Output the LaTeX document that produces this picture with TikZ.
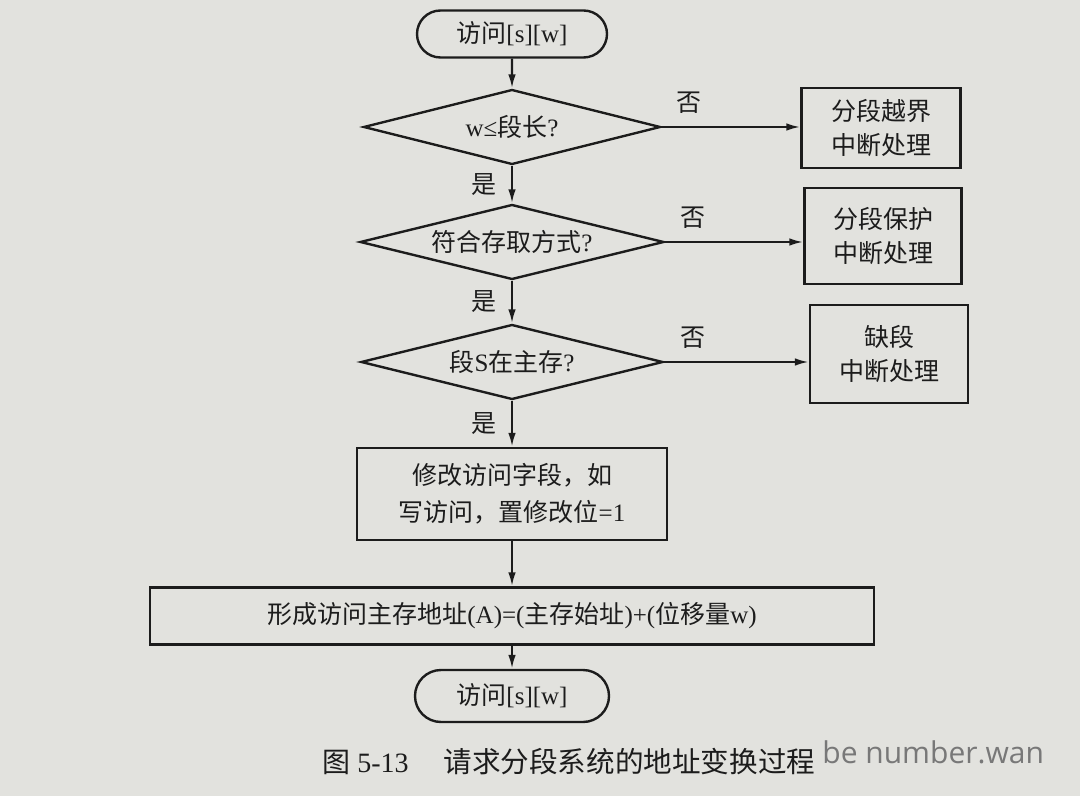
\documentclass[tikz,border=0pt]{standalone}
\usepackage{fontspec}
\setmainfont{Liberation Serif}
\newfontfamily\cjk{Noto Sans CJK SC}
\newfontfamily\wmfont{Open Sans}
\usetikzlibrary{shapes.geometric,shapes.misc,arrows.meta}
\definecolor{paper}{RGB}{226,226,222}
\definecolor{ink}{RGB}{28,28,28}
\definecolor{wmgray}{RGB}{120,120,120}
\begin{document}
\begin{tikzpicture}[x=0.5pt,y=-0.5pt,
  base/.style={draw=ink,line width=1.2pt,inner sep=0pt,align=center,text=ink,
    font=\fontsize{12.5}{17}\selectfont},
  term/.style={base,rounded rectangle},
  dec/.style={base,diamond,shape aspect=4},
  proc/.style={base,rectangle},
  arr/.style={draw=ink,line width=1.1pt,-{Latex[length=7pt,width=3.8pt]}},
  lab/.style={font=\fontsize{12.5}{14}\selectfont\cjk,text=ink,inner sep=1pt}]
\fill[paper] (0,0) rectangle (1080,796);
\useasboundingbox (0,0) rectangle (1080,796);

\node[term,minimum width=95pt,minimum height=23.5pt] (start) at (512,34) {{\cjk 访问}[s][w]};
\node[dec,minimum width=148.5pt,minimum height=37.5pt] (d1) at (512,127) {w≤{\cjk 段长}?};
\node[dec,minimum width=152pt,minimum height=37.5pt] (d2) at (512,242) {{\cjk 符合存取方式}?};
\node[dec,minimum width=151pt,minimum height=37.5pt] (d3) at (512,362) {{\cjk 段}S{\cjk 在主存}?};
\node[proc,minimum width=79.5pt,minimum height=40pt] (b1) at (881,128) {{\cjk 分段越界}\\{\cjk 中断处理}};
\node[proc,minimum width=78.5pt,minimum height=48pt] (b2) at (883,236) {{\cjk 分段保护}\\{\cjk 中断处理}};
\node[proc,minimum width=79pt,minimum height=49pt] (b3) at (889,354) {{\cjk 缺段}\\{\cjk 中断处理}};
\node[proc,minimum width=155pt,minimum height=46pt,font=\fontsize{12.5}{18.5}\selectfont] (p1) at (512,494) {{\cjk 修改访问字段，如}\\{\cjk 写访问，置修改位}=1};
\node[proc,minimum width=362pt,minimum height=28.5pt] (p2) at (512,616) {{\cjk 形成访问主存地址}(A)=({\cjk 主存始址})+({\cjk 位移量}w)};
\node[term,minimum width=97pt,minimum height=26pt] (end) at (512,696) {{\cjk 访问}[s][w]};

\draw[arr] (start) -- (d1);
\draw[arr] (d1) -- node[lab,left=6pt]{是} (d2);
\draw[arr] (d2) -- node[lab,left=6pt]{是} (d3);
\draw[arr] (d3) -- node[lab,left=6pt]{是} (p1);
\draw[arr] (p1) -- (p2);
\draw[arr] (p2) -- (end);
\draw[arr] (d1.east) -- node[lab,pos=0.2,above=5pt]{否} (d1.east -| b1.west);
\draw[arr] (d2.east) -- node[lab,pos=0.2,above=5pt]{否} (d2.east -| b2.west);
\draw[arr] (d3.east) -- node[lab,pos=0.2,above=5pt]{否} (d3.east -| b3.west);

\node[anchor=west,text=ink,inner sep=0pt,font=\fontsize{14}{16}\selectfont] (cap1) at (322,762) {{\cjk 图} 5-13};
\node[anchor=west,text=ink,inner sep=0pt,font=\fontsize{14.3}{16}\selectfont\cjk] (cap2) at (443,762) {请求分段系统的地址变换过程};
\node[anchor=west,text=wmgray,inner sep=0pt,font=\fontsize{15}{16}\selectfont\wmfont] (wm) at (822,752) {be number.wan};
\end{tikzpicture}
\end{document}
